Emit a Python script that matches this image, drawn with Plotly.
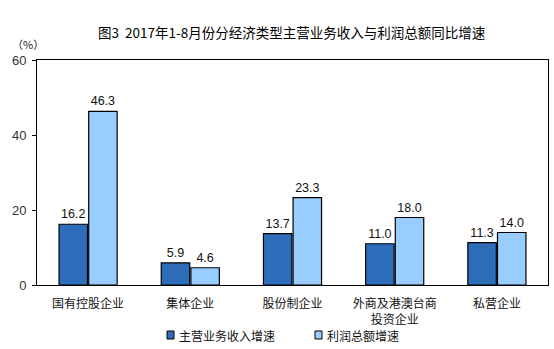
import plotly.graph_objects as go

categories = ["国有控股企业", "集体企业", "股份制企业", "外商及港澳台商<br>投资企业", "私营企业"]
revenue_growth = [16.2, 5.9, 13.7, 11.0, 11.3]
profit_growth = [46.3, 4.6, 23.3, 18.0, 14.0]
series_names = ["主营业务收入增速", "利润总额增速"]
series_colors = ["#2E6DB9", "#99CCFF"]
y_ticks = [0, 20, 40, 60]

CJK = "Noto Sans CJK SC, sans-serif"
NUM = "Liberation Sans, Arial, sans-serif"
W, H = 554, 349
L, R, T, B = 37, 6, 60, 64

fig = go.Figure()
for name, vals, color in zip(series_names, [revenue_growth, profit_growth], series_colors):
    fig.add_trace(go.Bar(
        x=categories, y=vals, name=name,
        marker=dict(color=color, line=dict(color="#000000", width=1.2)),
        text=[f"{v:.1f}" for v in vals], textposition="outside",
        textfont=dict(family=NUM, size=12.5, color="#111111"),
        cliponaxis=False, showlegend=False,
    ))


def px(x, y):
    """Convert page pixel coordinates to paper coordinates."""
    return (x - L) / (W - L - R), 1 - (y - T) / (H - T - B)


annotations = []
tx, ty = px(291, 32)
annotations.append(dict(text="图3  2017年1-8月份分经济类型主营业务收入与利润总额同比增速",
                        x=tx, y=ty, xanchor="center", yanchor="middle",
                        font=dict(family=CJK, size=13.5, color="#000000")))
ux, uy = px(10, 44)
annotations.append(dict(text="（%）", x=ux, y=uy, xanchor="left", yanchor="middle",
                        font=dict(family=CJK, size=11, color="#222222")))

# hand-built legend: outlined swatches followed by labels
shapes = []
legend_items = [(167, series_names[0], series_colors[0]), (315, series_names[1], series_colors[1])]
for sx, label, color in legend_items:
    x0, y0 = px(sx, 339)
    x1, y1 = px(sx + 7, 331)
    shapes.append(dict(type="rect", xref="paper", yref="paper", x0=x0, y0=y0, x1=x1, y1=y1,
                       fillcolor=color, line=dict(color="#000000", width=1)))
    lx, ly = px(sx + 10, 335)
    annotations.append(dict(text=label, x=lx, y=ly, xanchor="left", yanchor="middle",
                            font=dict(family=CJK, size=12, color="#111111")))

for a in annotations:
    a.update(xref="paper", yref="paper", showarrow=False)

fig.update_layout(
    width=W, height=H,
    margin=dict(l=L, r=R, t=T, b=B, autoexpand=False),
    paper_bgcolor="white", plot_bgcolor="white",
    barmode="group", bargap=0.42, bargroupgap=0.04,
    showlegend=False,
    xaxis=dict(range=[-0.5, 4.5], showline=True, linecolor="#000000", linewidth=1,
               mirror=True, ticks="", automargin=False, ticklabelstandoff=8,
               tickfont=dict(family=CJK, size=12, color="#111111")),
    yaxis=dict(range=[0, 60], tickvals=y_ticks, showgrid=False, zeroline=False,
               showline=True, linecolor="#000000", linewidth=1, mirror=True,
               ticks="outside", ticklen=4, tickcolor="#000000", automargin=False,
               ticklabelstandoff=3,
               tickfont=dict(family=NUM, size=13, color="#333333")),
    annotations=annotations,
    shapes=shapes,
)

fig.write_html("out.html")
